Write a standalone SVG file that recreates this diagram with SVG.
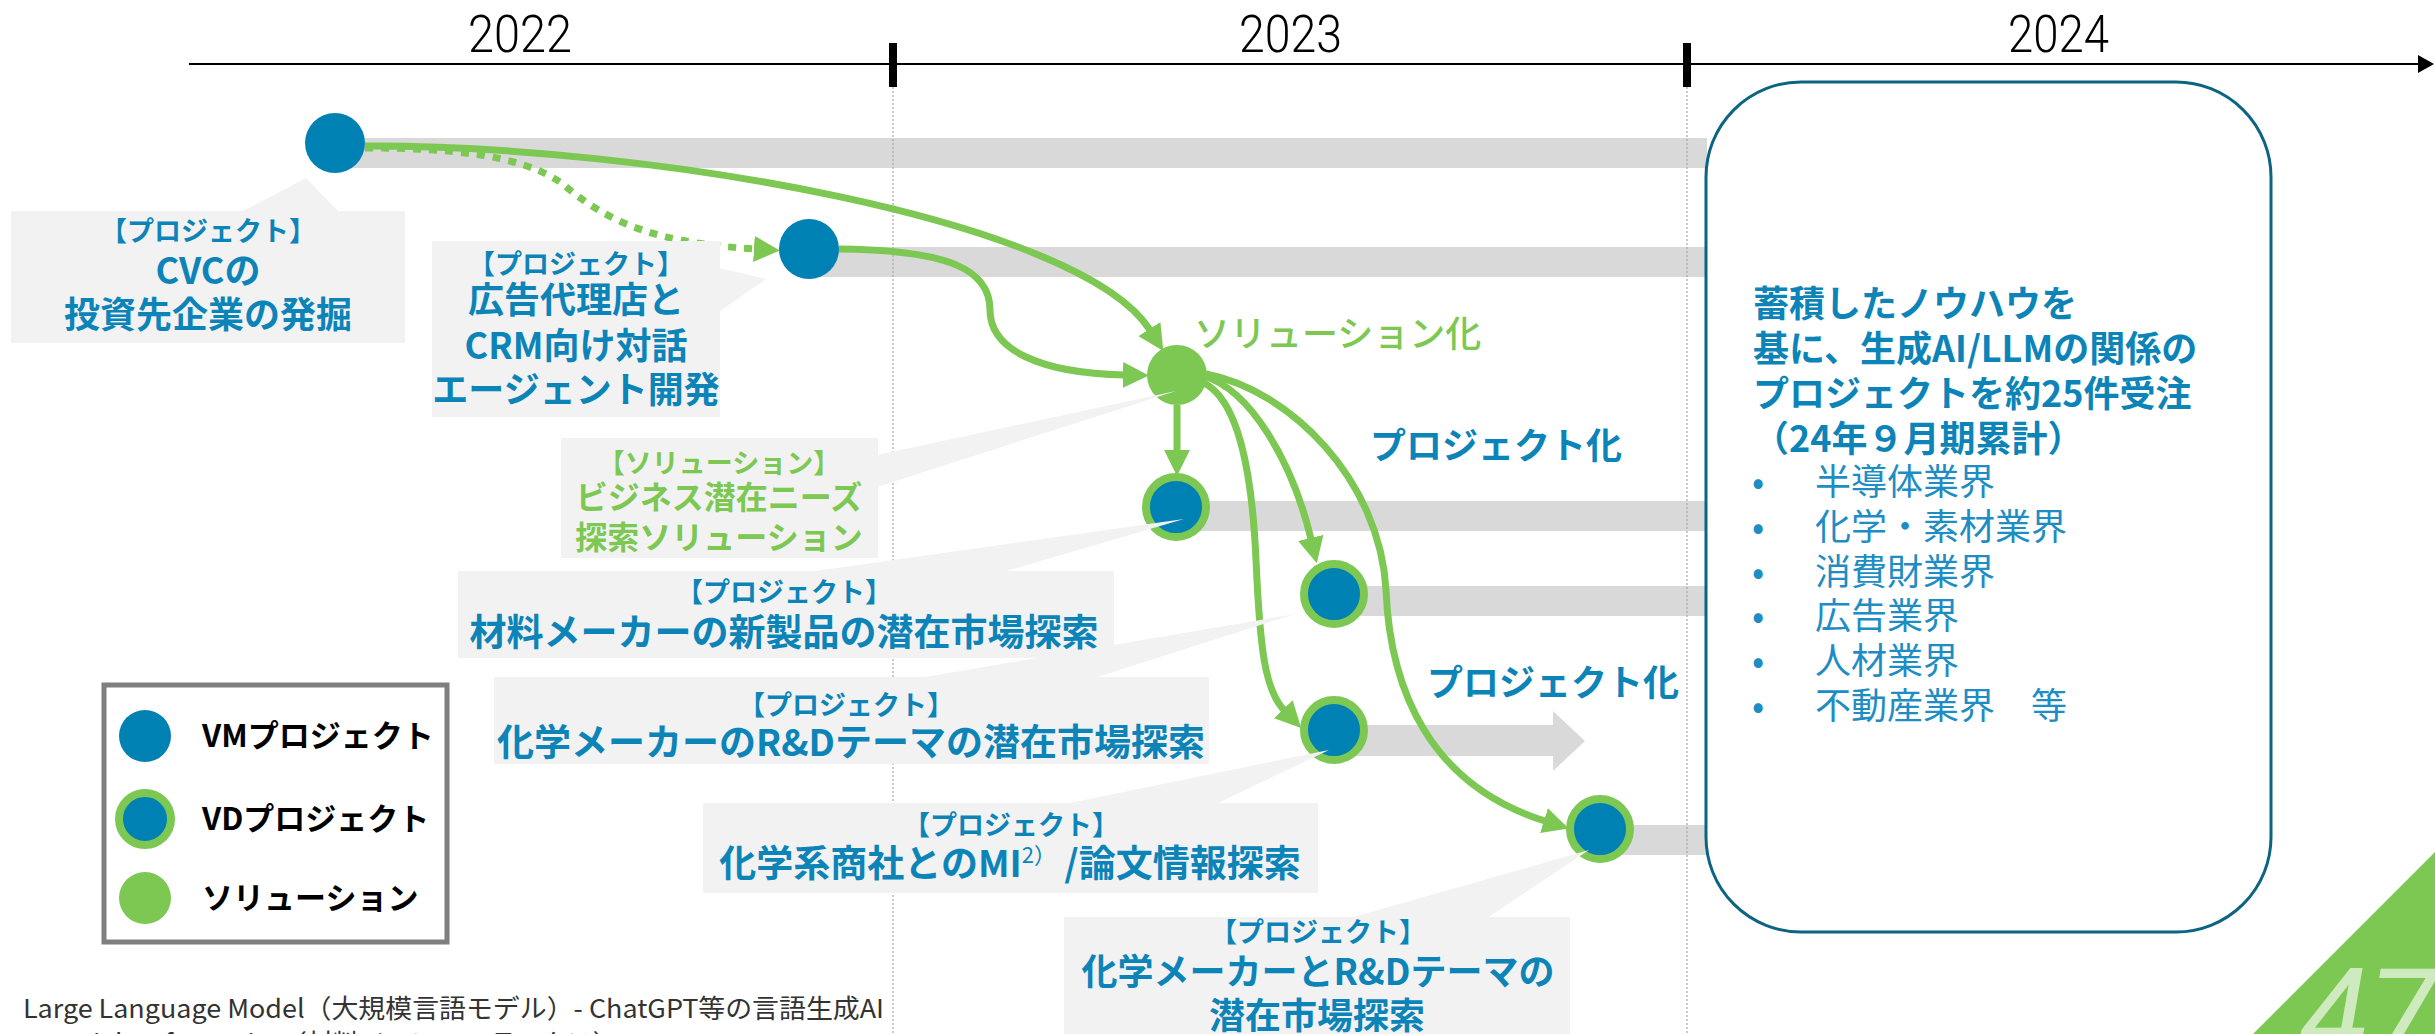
<svg xmlns="http://www.w3.org/2000/svg" width="2435" height="1034" viewBox="0 0 2435 1034">
<defs>
<style>
.lbl{font-family:"Noto Sans CJK JP",sans-serif;font-weight:700;font-size:27px;fill:#0C84B8;text-anchor:middle}
.ttl{font-family:"Noto Sans CJK JP",sans-serif;font-weight:700;font-size:36px;fill:#0C84B8;text-anchor:middle}
.glbl{font-family:"Noto Sans CJK JP",sans-serif;font-weight:700;font-size:27px;fill:#7CC853;text-anchor:middle}
.gttl{font-family:"Noto Sans CJK JP",sans-serif;font-weight:700;font-size:32px;fill:#7CC853;text-anchor:middle}
.year{font-family:Roboto,"Liberation Sans",sans-serif;font-weight:300;font-size:52px;fill:#000}
.callout{fill:#F2F2F2}
.band{fill:#D9D9D9}
.vm{fill:#0081B4}
.vd{fill:#0081B4;stroke:#7CC853;stroke-width:8}
.sol{fill:#7CC853}
.conn{fill:none;stroke:#7CC853;stroke-width:7}
.grid{stroke:#A6A6A6;stroke-width:1.2;stroke-dasharray:2 2}
.box{font-family:"Noto Sans CJK JP",sans-serif;font-weight:700;font-size:36px;fill:#0C84B8}
.bul{font-family:"Noto Sans CJK JP",sans-serif;font-weight:400;font-size:36px;fill:#1E8DC4}
.leg{font-family:"Noto Sans CJK JP",sans-serif;font-weight:700;font-size:31px;fill:#000}
.note{font-family:"Noto Sans CJK JP",sans-serif;font-weight:400;font-size:26px;fill:#333}
.pk{font-family:"Noto Sans CJK JP",sans-serif;font-weight:700;font-size:36px;fill:#0C84B8}
</style>
<marker id="ah" markerUnits="userSpaceOnUse" markerWidth="26" markerHeight="26" viewBox="0 0 24 24" refX="1" refY="12" orient="auto">
<path d="M0,0 L24,12 L0,24 Z" fill="#7CC853"/>
</marker>
<marker id="axh" markerUnits="userSpaceOnUse" markerWidth="16" markerHeight="18" viewBox="0 0 16 18" refX="2" refY="9" orient="auto">
<path d="M0,0 L16,9 L0,18 Z" fill="#000"/>
</marker>
</defs>
<rect width="2435" height="1034" fill="#fff"/>

<!-- timeline axis -->
<g id="axis">
<line x1="189" y1="64" x2="2420" y2="64" stroke="#000" stroke-width="2" marker-end="url(#axh)"/>
<rect x="889" y="43" width="8" height="44" fill="#000"/>
<rect x="1683" y="43" width="8" height="44" fill="#000"/>
<text class="year" x="468" y="52" textLength="104" lengthAdjust="spacingAndGlyphs">2022</text>
<text class="year" x="1239" y="52" textLength="103" lengthAdjust="spacingAndGlyphs">2023</text>
<text class="year" x="2008" y="52" textLength="101" lengthAdjust="spacingAndGlyphs">2024</text>
</g>

<!-- bands -->
<g id="bands">
<rect class="band" x="335" y="138" width="1372" height="30"/>
<rect class="band" x="809" y="247" width="898" height="30"/>
<rect class="band" x="1176" y="501" width="531" height="30"/>
<rect class="band" x="1334" y="586" width="373" height="30"/>
<path class="band" d="M1334,725 H1553 V711 L1585,741 L1553,771 V756 H1334 Z"/>
<rect class="band" x="1600" y="825" width="107" height="30"/>
</g>

<g id="grid">
<line class="grid" x1="893" y1="87" x2="893" y2="1034"/>
<line class="grid" x1="1687" y1="87" x2="1687" y2="1034"/>
</g>

<!-- summary box -->
<g id="summary">
<rect x="1706" y="82" width="565" height="850" rx="95" ry="95" fill="#fff" stroke="#0B6482" stroke-width="3"/>
<text class="box" x="1753" y="317">蓄積したノウハウを</text>
<text class="box" x="1753" y="362">基に、生成AI/LLMの関係の</text>
<text class="box" x="1753" y="407">プロジェクトを約25件受注</text>
<text class="box" x="1753" y="452">（24年９月期累計）</text>
<g class="bul">
<text x="1752" y="495">•</text><text x="1815" y="495">半導体業界</text>
<text x="1752" y="540">•</text><text x="1815" y="540">化学・素材業界</text>
<text x="1752" y="585">•</text><text x="1815" y="585">消費財業界</text>
<text x="1752" y="629">•</text><text x="1815" y="629">広告業界</text>
<text x="1752" y="674">•</text><text x="1815" y="674">人材業界</text>
<text x="1752" y="719">•</text><text x="1815" y="719">不動産業界　等</text>
</g>
</g>

<!-- connectors -->
<g id="connectors">
<path class="conn" d="M365,146 C650,145 1080,220 1150,330" marker-end="url(#ah)"/>
<path class="conn" d="M365,148 C450,148 520,155 560,182 C600,215 640,242 755,249" stroke-dasharray="8 8" marker-end="url(#ah)"/>
<path class="conn" d="M839,249 C950,250 990,270 990,310 C990,350 1040,373 1124,375" marker-end="url(#ah)"/>
<path class="conn" d="M1177,405 V451" marker-end="url(#ah)"/>
<path class="conn" d="M1204,376 C1250,390 1292,460 1311,539" marker-end="url(#ah)"/>
<path class="conn" d="M1202,382 C1238,398 1252,470 1256,560 C1260,650 1265,690 1284,710" marker-end="url(#ah)"/>
<path class="conn" d="M1206,374 C1290,390 1380,480 1386,590 C1390,690 1430,785 1545,821" marker-end="url(#ah)"/>
</g>

<!-- nodes -->
<g id="node-cvc"><circle class="vm" cx="335" cy="143" r="30"/></g>
<g id="node-ad"><circle class="vm" cx="809" cy="249" r="30"/></g>
<g id="node-solution"><circle class="sol" cx="1177" cy="375" r="30"/></g>
<g id="node-vd1"><circle class="vd" cx="1176" cy="507" r="30"/></g>
<g id="node-vd2"><circle class="vd" cx="1334" cy="594" r="30"/></g>
<g id="node-vd3"><circle class="vd" cx="1334" cy="730" r="30"/></g>
<g id="node-vd4"><circle class="vd" cx="1600" cy="829" r="30"/></g>

<!-- stage labels -->
<g id="stage-labels">
<text x="1194" y="347" style="font-family:'Noto Sans CJK JP',sans-serif;font-weight:500;font-size:36px;fill:#7CC853">ソリューション化</text>
<text class="pk" x="1370" y="459">プロジェクト化</text>
<text class="pk" x="1427" y="696">プロジェクト化</text>
</g>

<!-- callouts -->
<g id="callout-cvc">
<polygon class="callout" points="241,212 306,178 339,212"/>
<rect class="callout" x="11" y="211" width="394" height="132"/>
<text class="lbl" x="208" y="241">【プロジェクト】</text>
<text class="ttl" x="208" y="284">CVCの</text>
<text class="ttl" x="208" y="328">投資先企業の発掘</text>
</g>
<g id="callout-ad">
<polygon class="callout" points="719,268 766,279 719,312"/>
<rect class="callout" x="432" y="241" width="288" height="176"/>
<text class="lbl" x="576" y="274">【プロジェクト】</text>
<text class="ttl" x="576" y="313">広告代理店と</text>
<text class="ttl" x="576" y="359">CRM向け対話</text>
<text class="ttl" x="576" y="403">エージェント開発</text>
</g>
<g id="callout-solution">
<polygon class="callout" points="877,455 1176,391 877,487"/>
<rect class="callout" x="561" y="438" width="317" height="120"/>
<text class="glbl" x="719" y="473">【ソリューション】</text>
<text class="gttl" x="719" y="509">ビジネス潜在ニーズ</text>
<text class="gttl" x="719" y="549">探索ソリューション</text>
</g>
<g id="callout-vd1">
<polygon class="callout" points="808,572 1184,519 1003,572"/>
<rect class="callout" x="458" y="571" width="656" height="87"/>
<text class="lbl" x="784" y="602">【プロジェクト】</text>
<text class="ttl" x="784" y="646" style="font-size:37px">材料メーカーの新製品の潜在市場探索</text>
</g>
<g id="callout-vd2">
<polygon class="callout" points="913,679 1295,614 1091,679"/>
<rect class="callout" x="494" y="677" width="715" height="87"/>
<text class="lbl" x="846" y="715">【プロジェクト】</text>
<text class="ttl" x="851" y="756" style="font-size:37px">化学メーカーのR&amp;Dテーマの潜在市場探索</text>
</g>
<g id="callout-vd3">
<polygon class="callout" points="1065,804 1329,750 1216,804"/>
<rect class="callout" x="703" y="803" width="615" height="90"/>
<text class="lbl" x="1011" y="835">【プロジェクト】</text>
<text class="ttl" x="1010" y="877" style="font-size:37px">化学系商社とのMI<tspan style="font-size:22px;font-weight:400" dy="-14">2）</tspan><tspan dy="14"> /論文情報探索</tspan></text>
</g>
<g id="callout-vd4">
<polygon class="callout" points="1350,918 1589,850 1487,918"/>
<rect class="callout" x="1064" y="917" width="506" height="117"/>
<text class="lbl" x="1318" y="942">【プロジェクト】</text>
<text class="ttl" x="1318" y="985">化学メーカーとR&amp;Dテーマの</text>
<text class="ttl" x="1317" y="1029">潜在市場探索</text>
</g>

<!-- legend -->
<g id="legend">
<rect x="104" y="685" width="343" height="257" fill="#fff" stroke="#7F7F7F" stroke-width="5"/>
<circle class="vm" cx="145" cy="736" r="26"/>
<circle cx="145" cy="819" r="26" fill="#0081B4" stroke="#7CC853" stroke-width="8"/>
<circle class="sol" cx="145" cy="898" r="26"/>
<text class="leg" x="202" y="747">VMプロジェクト</text>
<text class="leg" x="202" y="830">VDプロジェクト</text>
<text class="leg" x="202" y="909">ソリューション</text>
</g>

<!-- footnotes -->
<g id="footnotes">
<text class="note" x="23" y="1018" textLength="861" lengthAdjust="spacingAndGlyphs">Large Language Model（大規模言語モデル）- ChatGPT等の言語生成AI</text>
<text class="note" x="23" y="1053" textLength="596" lengthAdjust="spacingAndGlyphs">Materials Informatics（材料インフォマティクス）</text>
</g>

<!-- page number -->
<g id="page">
<polygon points="2253,1034 2435,852 2435,1034" fill="#7CC853"/>
<text x="2300" y="1058" style="font-family:Roboto,'Liberation Sans',sans-serif;font-weight:400;font-style:italic;font-size:125px;fill:#D0EABF">47</text>
</g>
</svg>
